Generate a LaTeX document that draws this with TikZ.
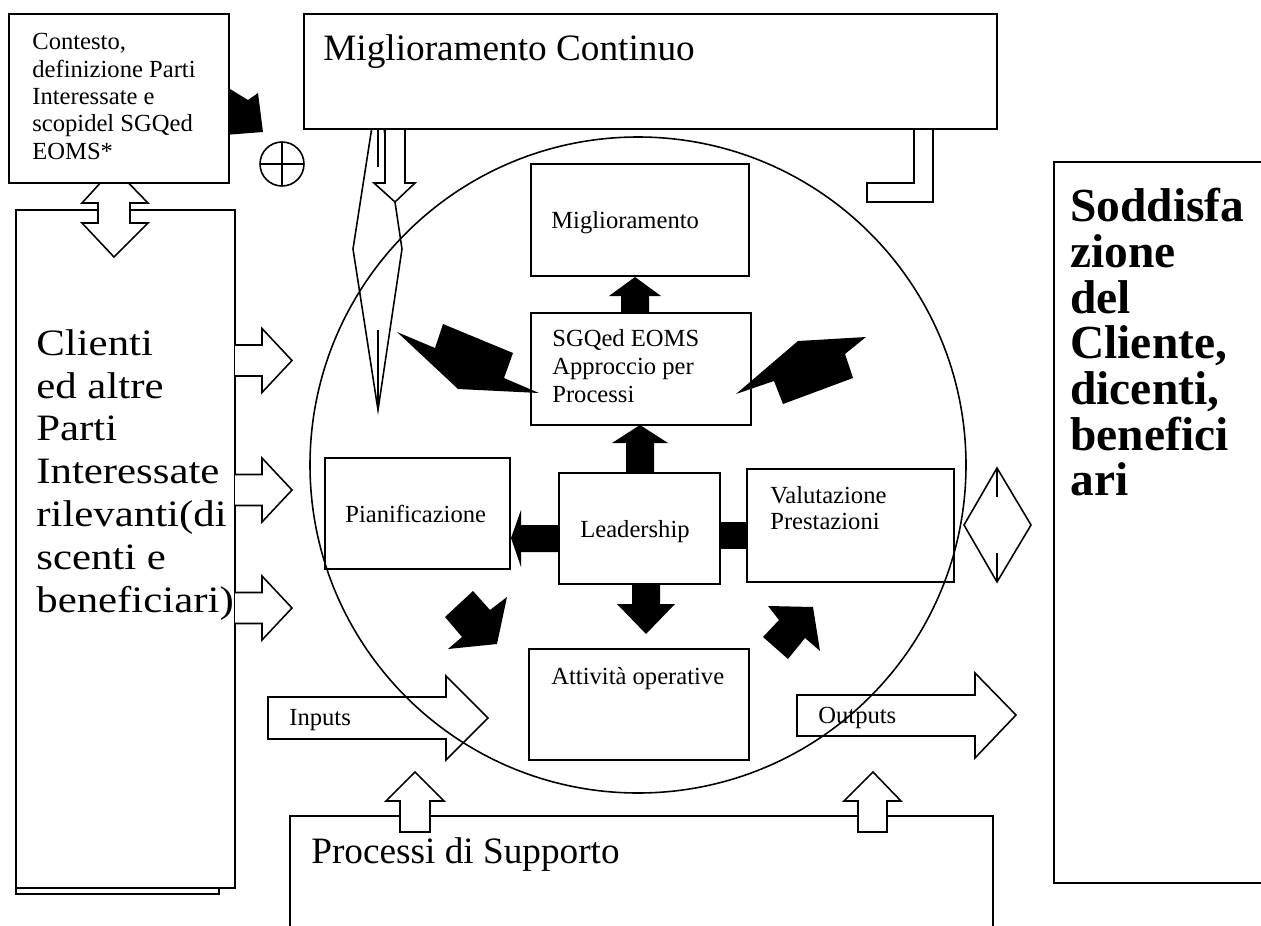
\documentclass[tikz,border=0pt]{standalone}
\usepackage{fontspec}
\setmainfont{Liberation Serif}
\newfontfamily\wideserif[FakeStretch=1.15]{Liberation Serif}
\begin{document}
\begin{tikzpicture}[x=0.02cm,y=-0.02cm,
  box/.style={draw, line width=1pt, fill=white, inner sep=0pt},
  rect/.style 2 args={minimum width=#1*0.02cm, minimum height=#2*0.02cm},
  hollow/.style={draw, line width=0.9pt, fill=white, line join=miter},
  solidarrow/.style={fill=black, draw=none},
  thinline/.style={draw, line width=0.9pt},
  lbl/.style={anchor=north west, inner sep=0pt, align=left, font=\fontsize{14}{15.3}\selectfont},
  biglbl/.style={anchor=north west, inner sep=0pt, align=left, font=\fontsize{21.2}{24.4}\selectfont},
  boldlbl/.style={anchor=north west, inner sep=0pt, align=left, font=\fontsize{27}{26}\selectfont\bfseries},
]
\useasboundingbox (0,0) rectangle (1261,926);

% --- left needle (thin up-down arrow) behind the top box
\draw[hollow] (378,88) -- (402,249) -- (378,410) -- (353,249) -- cycle;
\draw[thinline] (378,88) -- (378,167);
\draw[thinline] (378,330) -- (378,410);
% hollow down arrow from Miglioramento Continuo
\draw[hollow] (385,120) -- (385,183) -- (374,183) -- (395,202) -- (415,183) -- (405,183) -- (405,120) -- cycle;
% elbow shape
\draw[hollow] (914,120) -- (914,183) -- (867,183) -- (867,202) -- (933,202) -- (933,120) -- cycle;

% Miglioramento Continuo box
\node[box, rect={693}{115}] (mc) at (650.5,71.5) {};
\node[biglbl] (mctext) at (323,34) {Miglioramento Continuo};

% Clienti box with shadow
\draw[line width=1pt, fill=white] (16,220) rectangle (219,894);
\node[box, rect={219}{678}] (clienti) at (125.5,549) {};
\node[biglbl, font=\fontsize{21.2}{24.4}\selectfont\wideserif] (clientitext) at (36,329) {Clienti\\ed altre\\Parti\\Interessate\\rilevanti(di\\scenti e\\beneficiari)};

% double hollow arrow between Contesto and Clienti
\draw[hollow] (114,168) -- (148,203) -- (130,203) -- (130,223) -- (148,223) -- (114,257)
  -- (82,223) -- (98,223) -- (98,203) -- (82,203) -- cycle;

% black arrow from Contesto
\fill[solidarrow] (212,78) -- (248,100) -- (258,93) -- (263,132) -- (212,136) -- cycle;

% Contesto box
\node[box, rect={220}{169}] (contesto) at (119,98.5) {};
\node[lbl, font=\fontsize{14}{15.6}\selectfont] (contestotext) at (32,33) {Contesto,\\definizione Parti\\Interessate e\\scopidel SGQed\\EOMS*};

% circle plus
\draw[thinline] (282,164) circle [radius=22];
\draw[thinline] (260,164) -- (304,164);
\draw[thinline] (282,142) -- (282,186);
\coordinate (oplus) at (282,164);

% small hollow arrows from Clienti
\foreach \c in {360.5,490,608}{
  \draw[hollow] (235,\c-15.5) -- (262,\c-15.5) -- (262,\c-32) -- (292,\c) -- (262,\c+32) -- (262,\c+15.5) -- (235,\c+15.5);
}

% inner boxes
\node[box, rect={218}{112}] (migl) at (640,220) {};
\node[lbl] (migltext) at (551,211) {Miglioramento};
\node[box, rect={220}{112}] (sgq) at (641,369) {};
\node[lbl, font=\fontsize{14}{15.9}\selectfont] (sgqtext) at (552,329) {SGQed EOMS\\Approccio per\\Processi};
\node[box, rect={161}{111}] (lead) at (639.5,528.5) {};
\node[lbl] (leadtext) at (580,520) {Leadership};
\node[box, rect={185}{111}] (pian) at (417.5,513.5) {};
\node[lbl] (piantext) at (345,505) {Pianificazione};
\node[box, rect={207}{113}] (val) at (850.5,525.5) {};
\node[lbl, font=\fontsize{14}{14.7}\selectfont] (valtext) at (770,486) {Valutazione\\Prestazioni};
\node[box, rect={220}{111}] (att) at (639,704.5) {};
\node[lbl] (atttext) at (551,667) {Attività operative};

% black arrows between inner boxes
\fill[solidarrow] (621,313) -- (621,296) -- (609,296) -- (635,277) -- (661,296) -- (649,296) -- (649,313) -- cycle;
\fill[solidarrow] (626,473) -- (626,443) -- (612,443) -- (640,425) -- (668,443) -- (654,443) -- (654,473) -- cycle;
\fill[solidarrow] (559,525) -- (521,525) -- (521,510) -- (511,538) -- (521,567) -- (521,552) -- (559,552) -- cycle;
\fill[solidarrow] (720,522) rectangle (747,549);
\fill[solidarrow] (632,584) -- (632,604) -- (617,604) -- (646,634) -- (675,604) -- (660,604) -- (660,584) -- cycle;

% bent black arrows
\fill[solidarrow] (397,332) -- (435,348) -- (443,324) -- (513,353) -- (504,378) -- (539,393) -- (458,389) -- cycle;
\fill[solidarrow] (736,394) -- (798,341) -- (866,337) -- (845,354) -- (853,378) -- (783,404) -- (774,381) -- cycle;
\fill[solidarrow] (445,617) -- (473,591) -- (490,610) -- (507,597) -- (497,644) -- (448,649) -- (462,637) -- cycle;
\fill[solidarrow] (763,637) -- (779,620) -- (768,606) -- (813,607) -- (820,651) -- (805,638) -- (788,659) -- cycle;

% Inputs / Outputs arrows
\draw[thinline, line join=miter] (268,697) -- (446,697) -- (446,676) -- (488,718) -- (446,760) -- (446,739) -- (268,739) -- cycle;
\node[lbl] (inputs) at (289,709) {Inputs};
\draw[thinline, line join=miter] (797,695) -- (975,695) -- (975,673) -- (1016,715) -- (975,758) -- (975,736) -- (797,736) -- cycle;
\node[lbl] (outputs) at (818,707) {Outputs};

% right diamond
\draw[hollow] (997,468) -- (1031,525) -- (997,582) -- (964,525) -- cycle;
\draw[thinline] (997,468) -- (997,497);
\draw[thinline] (997,553) -- (997,582);

% Processi di Supporto box (open bottom)
\draw[line width=1pt] (290,926) -- (290,816) -- (993,816) -- (993,926);
\coordinate (proc) at (641,870);
\node[biglbl] (proctext) at (311,837) {Processi di Supporto};
% hollow up arrows
\draw[hollow] (400,832) -- (400,801) -- (386,801) -- (415,772) -- (444,801) -- (430,801) -- (430,832) -- cycle;
\draw[hollow] (858,832) -- (858,801) -- (844,801) -- (873,772) -- (901,801) -- (887,801) -- (887,832) -- cycle;

% Soddisfazione box (open right)
\draw[line width=1pt] (1261,162) -- (1054,162) -- (1054,883) -- (1261,883);
\node[boldlbl] (sodd) at (1070,188) {Soddisfa\\zione\\del\\Cliente,\\dicenti,\\benefici\\ari};

% big circle
\draw[thinline] (638,465) circle [radius=328];
\end{tikzpicture}
\end{document}
